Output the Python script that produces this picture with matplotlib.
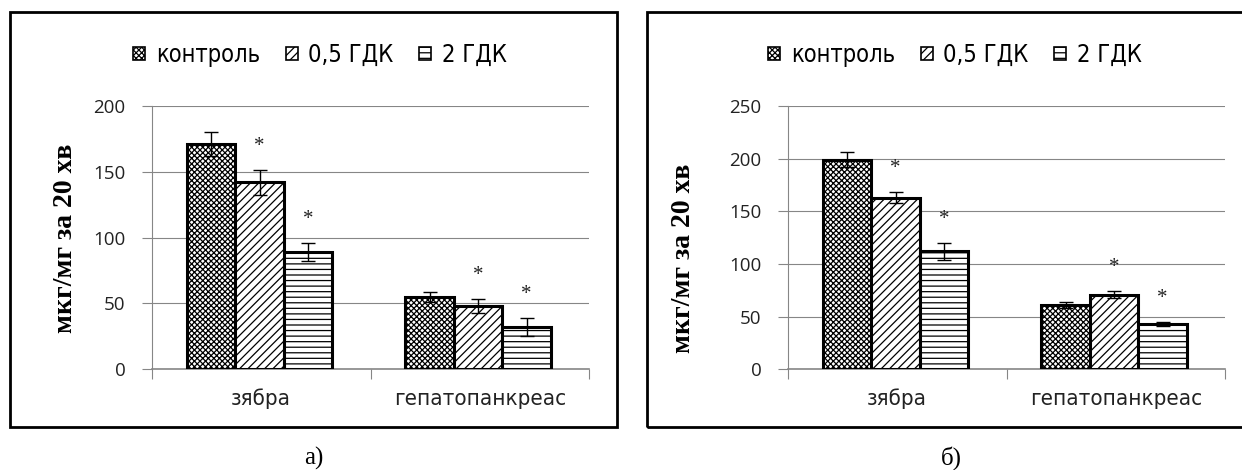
import numpy as np
import matplotlib
matplotlib.use('Agg')
import matplotlib.pyplot as plt
from matplotlib.patches import Rectangle, Patch

# дані
categories = ['зябра', 'гепатопанкреас']
series = ['контроль', '0,5 ГДК', '2 ГДК']

# панель а)
a_control = [171, 55]
a_control_err = [9, 4]
a_half = [142, 48]
a_half_err = [9.5, 5.5]
a_two = [89, 32]
a_two_err = [7, 7]
a_sig = [[False, False], [True, True], [True, True]]
a_yticks = [0, 50, 100, 150, 200]

# панель б)
b_control = [199, 61]
b_control_err = [7, 3]
b_half = [163, 71]
b_half_err = [5.5, 3]
b_two = [112, 43]
b_two_err = [8, 2]
b_sig = [[False, False], [True, True], [True, True]]
b_yticks = [0, 50, 100, 150, 200, 250]

ylabel = 'мкг/мг за 20 хв'

serif = 'Liberation Serif'

plt.rcParams['hatch.linewidth'] = 0.9
hatches = ['xxxxxx', '////', '---']
grid_c = '#868686'

W, H = 1242, 470
fig = plt.figure(figsize=(W / 100, H / 100), dpi=100)


def panel(left_px, values, errs, sig, yticks, label_y, leg_x, frame):
    ax = fig.add_axes([left_px / W, (H - 369.3) / H, 437 / W, 263.3 / H])
    x = np.arange(len(categories))
    w = 0.222
    for i, (vals, err) in enumerate(zip(values, errs)):
        pos = x + (i - 1) * w - 0.007
        ax.bar(pos, vals, w, color='white', edgecolor='black', linewidth=2.2,
               hatch=hatches[i], zorder=3, label=series[i])
        ax.errorbar(pos, vals, yerr=err, fmt='none', ecolor='black',
                    elinewidth=1.0, capsize=5, capthick=1.0, zorder=4)
        # зірочки - достовірна різниця з контролем
        for j in range(len(categories)):
            if sig[i][j]:
                ax.annotate('*', (pos[j], vals[j] + err[j]), xytext=(0, 17),
                            textcoords='offset points', ha='center', va='center',
                            fontsize=15, family=serif, color='#222222', zorder=5)
    ax.set_xlim(-0.5, len(categories) - 0.5)
    ax.set_ylim(yticks[0], yticks[-1])
    ax.set_yticks(yticks)
    ax.yaxis.grid(True, color=grid_c, linewidth=0.8, zorder=0)
    ax.set_axisbelow(True)
    ax.set_xticks(np.arange(len(categories) + 1) - 0.5)
    ax.set_xticklabels([])
    ax.set_xticks(x, minor=True)
    ax.set_xticklabels(categories, minor=True, fontsize=16, fontstretch='condensed',
                       color='#222222')
    ax.tick_params(axis='x', which='minor', length=0, pad=14)
    ax.tick_params(axis='x', which='major', direction='out', length=7,
                   color=grid_c, width=0.8)
    ax.tick_params(axis='y', direction='out', length=7, color=grid_c, width=0.8,
                   pad=12, labelsize=13.5, labelcolor='#222222')
    for lab in ax.get_yticklabels():
        lab.set_family('Open Sans')
    for s in ['top', 'right']:
        ax.spines[s].set_visible(False)
    ax.spines['left'].set_color(grid_c)
    ax.spines['left'].set_linewidth(0.8)
    ax.spines['bottom'].set_color(grid_c)
    ax.spines['bottom'].set_linewidth(1.2)
    fig.text(label_y[0] / W, label_y[1], ylabel, rotation=90, ha='center',
             va='center', family=serif, fontweight='bold', fontsize=20)
    handles = [Patch(facecolor='white', edgecolor='black', hatch=hatches[i],
                     linewidth=1.2, label=series[i]) for i in range(3)]
    fig.legend(handles=handles, loc='center', bbox_to_anchor=(leg_x / W, (H - 55) / H),
               ncol=3, frameon=False, prop={'size': 17, 'stretch': 'condensed'},
               handlelength=0.5, handleheight=0.5, handletextpad=0.45,
               columnspacing=1.1, borderpad=0)
    fig.add_artist(Rectangle((frame[0] / W, (H - 427) / H), (frame[1] - frame[0]) / W,
                             415 / H, transform=fig.transFigure, fill=False,
                             edgecolor='black', linewidth=2.0))
    return ax


panel(152, [a_control, a_half, a_two], [a_control_err, a_half_err, a_two_err],
      a_sig, a_yticks, (65, (H - 238) / H), 320, (10, 617))
panel(788, [b_control, b_half, b_two], [b_control_err, b_half_err, b_two_err],
      b_sig, b_yticks, (683, (H - 258) / H), 955, (647, 1256))

fig.text(314 / W, (H - 458) / H, 'а)', ha='center', va='center', family=serif, fontsize=18)
fig.text(951 / W, (H - 458) / H, 'б)', ha='center', va='center', family=serif, fontsize=18)

fig.savefig('out.png', dpi=100)
